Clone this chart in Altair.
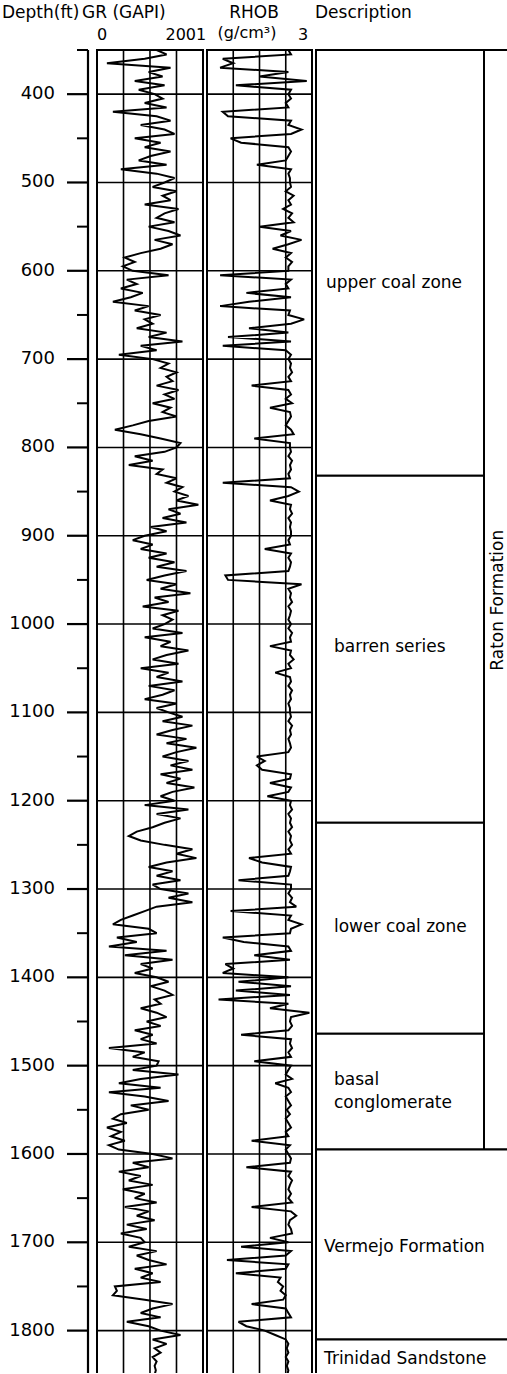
import altair as alt
import pandas as pd

# ---------------- data ----------------
depth_top = 350
depth_step = 5

# Gamma ray (GAPI), one value every 5 ft
gr_350 = [150, 175, 120, 25, 185, 130, 165, 95, 170, 105]
gr_400 = [145, 165, 120, 175, 40, 150, 185, 110, 170, 195, 95, 160, 120, 185, 135, 105, 175, 60, 150, 195]
gr_500 = [170, 140, 200, 165, 185, 120, 205, 170, 150, 195, 130, 180, 210, 145, 190, 160, 110, 70, 95, 65]
gr_600 = [90, 180, 75, 100, 60, 115, 85, 40, 130, 95, 160, 120, 140, 100, 175, 130, 215, 110, 150, 55]
gr_700 = [140, 180, 160, 200, 175, 190, 150, 205, 170, 195, 140, 185, 165, 200, 130, 90, 45, 110, 160, 210]
gr_800 = [200, 170, 95, 140, 80, 165, 150, 200, 175, 215, 195, 230, 200, 255, 180, 210, 165, 225, 135, 175]
gr_900 = [120, 90, 140, 110, 175, 130, 195, 150, 225, 170, 125, 200, 160, 235, 145, 180, 115, 205, 165, 190]
gr_1000 = [170, 140, 215, 120, 185, 160, 230, 175, 140, 205, 110, 180, 150, 215, 130, 195, 165, 120, 200, 150]
gr_1100 = [180, 215, 165, 240, 190, 150, 225, 175, 250, 200, 165, 230, 185, 240, 160, 210, 175, 245, 190, 160]
gr_1200 = [195, 120, 230, 150, 210, 170, 140, 100, 80, 110, 170, 240, 200, 250, 175, 130, 190, 150, 210, 140]
gr_1300 = [160, 230, 180, 240, 150, 120, 90, 60, 40, 130, 150, 50, 100, 30, 175, 70, 190, 110, 140, 95]
gr_1400 = [150, 180, 135, 170, 190, 145, 160, 110, 150, 175, 125, 160, 95, 140, 110, 150, 30, 120, 90, 155]
gr_1500 = [150, 90, 205, 110, 55, 160, 30, 120, 180, 85, 130, 60, 40, 75, 25, 60, 35, 70, 30, 55]
gr_1600 = [140, 190, 90, 130, 55, 110, 80, 140, 65, 120, 95, 150, 70, 130, 100, 145, 75, 125, 60, 110]
gr_1700 = [120, 80, 150, 100, 130, 175, 95, 140, 110, 160, 45, 50, 40, 120, 190, 140, 110, 160, 75, 130]
gr_1800 = [160, 210, 140, 175, 145, 160, 140, 150, 145, 148, 145]

# Bulk density (g/cm3), one value every 5 ft
rhob_350 = [2.55, 2.6, 1.3, 1.5, 1.25, 2.55, 2.0, 2.9, 1.55, 2.6]
rhob_400 = [2.55, 2.6, 2.5, 2.55, 1.3, 1.4, 2.6, 2.55, 2.8, 2.6, 1.45, 1.65, 2.55, 2.6, 2.55, 2.5, 1.95, 2.6, 2.55, 2.58]
rhob_500 = [2.58, 2.6, 2.5, 2.65, 2.55, 2.6, 2.45, 2.62, 2.55, 2.65, 2.0, 2.6, 2.4, 2.8, 2.55, 2.25, 2.6, 2.5, 2.62, 2.55]
rhob_600 = [2.55, 1.25, 2.6, 2.5, 2.55, 1.75, 2.6, 1.8, 1.25, 2.58, 2.55, 2.85, 2.6, 1.8, 2.55, 1.4, 2.6, 1.3, 2.5, 2.6]
rhob_700 = [2.55, 2.6, 2.58, 2.62, 2.55, 2.6, 1.85, 2.55, 2.6, 2.5, 2.62, 2.2, 2.58, 2.6, 2.55, 2.5, 2.6, 2.65, 1.9, 2.58]
rhob_800 = [2.58, 2.6, 2.55, 2.62, 2.58, 2.6, 2.55, 2.58, 1.3, 2.6, 2.75, 2.55, 2.2, 2.6, 2.58, 2.62, 2.55, 2.6, 2.58, 2.6]
rhob_900 = [2.6, 2.55, 2.58, 2.1, 2.6, 2.55, 2.6, 2.58, 2.55, 1.35, 1.4, 2.8, 2.55, 2.6, 2.58, 2.62, 2.55, 2.6, 2.58, 2.55]
rhob_1000 = [2.6, 2.55, 2.62, 2.58, 2.6, 2.2, 2.6, 2.58, 2.65, 2.55, 2.6, 2.3, 2.58, 2.6, 2.55, 2.62, 2.58, 2.6, 2.55, 2.58]
rhob_1100 = [2.58, 2.6, 2.55, 2.62, 2.58, 2.6, 2.55, 2.58, 2.6, 2.55, 1.95, 2.1, 1.95, 2.05, 2.6, 2.58, 2.2, 2.6, 2.55, 2.15]
rhob_1200 = [2.6, 2.58, 2.62, 2.55, 2.6, 2.58, 2.62, 2.55, 2.6, 2.58, 2.62, 2.55, 2.6, 1.8, 2.05, 2.6, 2.58, 2.55, 1.6, 2.6]
rhob_1300 = [2.6, 2.55, 2.62, 2.58, 2.7, 1.45, 2.6, 2.55, 2.8, 2.6, 2.58, 1.3, 1.7, 2.55, 2.6, 1.9, 2.58, 1.35, 1.5, 1.3]
rhob_1400 = [2.55, 1.6, 2.6, 1.55, 2.58, 1.22, 2.55, 2.2, 2.95, 2.6, 2.58, 2.62, 2.55, 1.65, 2.6, 2.58, 2.62, 2.55, 2.6, 1.9]
rhob_1500 = [2.6, 2.55, 2.5, 2.62, 2.3, 2.55, 2.6, 2.5, 2.55, 2.6, 2.52, 2.58, 2.5, 2.55, 2.6, 2.5, 2.55, 1.85, 2.58, 2.5]
rhob_1600 = [2.55, 2.6, 2.58, 1.75, 2.6, 2.55, 2.62, 2.58, 2.55, 2.6, 2.55, 2.62, 1.85, 2.6, 2.7, 2.58, 2.55, 2.6, 2.62, 2.2]
rhob_1700 = [2.55, 1.65, 2.6, 2.5, 1.38, 2.55, 2.5, 1.55, 2.4, 2.35, 2.45, 2.4, 2.5, 2.45, 1.85, 2.5, 2.55, 2.6, 1.6, 1.75]
rhob_1800 = [2.1, 2.3, 2.5, 2.55, 2.52, 2.55, 2.5, 2.55, 2.52, 2.55, 2.53]

# depth axis
depth_domain = [350, 1848]
major_ticks = [400, 500, 600, 700, 800, 900, 1000, 1100, 1200, 1300, 1400, 1500, 1600, 1700, 1800]
minor_ticks = [350, 450, 550, 650, 750, 850, 950, 1050, 1150, 1250, 1350, 1450, 1550, 1650, 1750]

# track scales
gr_limits = [0, 266.7]
gr_grid = [66.7, 133.3, 200.0]
rhob_limits = [1.0, 3.0]
rhob_grid = [1.5, 2.0, 2.5]

# description column
zone_names = ["upper coal zone", "barren series", "lower coal zone", "basal conglomerate"]
zone_tops = [350, 832, 1225, 1464]
zone_bottoms = [832, 1225, 1464, 1595]
formation_names = ["Vermejo Formation", "Trinidad Sandstone"]
formation_tops = [1595, 1810]
formation_bottoms = [1810, 1860]
raton_name = "Raton Formation"
raton_top, raton_bottom, raton_label_depth = 350, 1595, 973

zone_labels = ["upper coal zone", "barren series", "lower coal zone", "basal", "conglomerate"]
zone_label_depths = [614, 1026, 1343, 1516, 1542]
formation_labels = ["Vermejo Formation", "Trinidad Sandstone"]
formation_label_depths = [1705, 1832]

header_titles = ["Depth(ft)", "GR (GAPI)", "RHOB", "Description"]
scale_labels = ["0", "200", "1", "(g/cm³)", "3"]

# ---------------- tables ----------------
gr = (gr_350 + gr_400 + gr_500 + gr_600 + gr_700 + gr_800 + gr_900 + gr_1000 + gr_1100
      + gr_1200 + gr_1300 + gr_1400 + gr_1500 + gr_1600 + gr_1700 + gr_1800)
rhob = (rhob_350 + rhob_400 + rhob_500 + rhob_600 + rhob_700 + rhob_800 + rhob_900 + rhob_1000
        + rhob_1100 + rhob_1200 + rhob_1300 + rhob_1400 + rhob_1500 + rhob_1600 + rhob_1700 + rhob_1800)
depths = [depth_top + depth_step * i for i in range(len(gr))]
log_df = pd.DataFrame({"Depth": depths, "GR": gr, "RHOB": rhob})

W, H = 419, 1323
FONT = "DejaVu Sans"

y_scale = alt.Scale(domain=depth_domain, reverse=True, nice=False, zero=False)
gr_scale = alt.Scale(domain=gr_limits, range=[9, 115], nice=False, zero=False)
rh_scale = alt.Scale(domain=rhob_limits, range=[119, 224], nice=False, zero=False)


def Y(field="Depth:Q"):
    return alt.Y(field, scale=y_scale, axis=None)


layers = []

# track frames
layers.append(alt.Chart(pd.DataFrame({"lo": [gr_limits[0]], "hi": [gr_limits[1]]})).mark_rect(
    fill="white", stroke="black", strokeWidth=2).encode(
    x=alt.X("lo:Q", scale=gr_scale, axis=None), x2="hi:Q", y=alt.value(0), y2=alt.value(H + 5)))
layers.append(alt.Chart(pd.DataFrame({"lo": [rhob_limits[0]], "hi": [rhob_limits[1]]})).mark_rect(
    fill="white", stroke="black", strokeWidth=2).encode(
    x=alt.X("lo:Q", scale=rh_scale, axis=None), x2="hi:Q", y=alt.value(0), y2=alt.value(H + 5)))

# description boxes
zone_df = pd.DataFrame({"name": zone_names, "top": zone_tops, "bottom": zone_bottoms})
layers.append(alt.Chart(zone_df).mark_rect(fill="white", stroke="black", strokeWidth=2).encode(
    y=Y("top:Q"), y2="bottom:Q", x=alt.value(228), x2=alt.value(396)))
layers.append(alt.Chart(pd.DataFrame({"name": [raton_name], "top": [raton_top], "bottom": [raton_bottom]})).mark_rect(
    fill="white", stroke="black", strokeWidth=2).encode(
    y=Y("top:Q"), y2="bottom:Q", x=alt.value(396), x2=alt.value(426)))
form_df = pd.DataFrame({"name": formation_names, "top": formation_tops, "bottom": formation_bottoms})
layers.append(alt.Chart(form_df).mark_rect(fill="white", stroke="black", strokeWidth=2).encode(
    y=Y("top:Q"), y2="bottom:Q", x=alt.value(228), x2=alt.value(426)))

# grid lines
layers.append(alt.Chart(pd.DataFrame({"v": gr_grid})).mark_rule(color="black", strokeWidth=1.6).encode(
    x=alt.X("v:Q", scale=gr_scale, axis=None), y=alt.value(0), y2=alt.value(H + 5)))
layers.append(alt.Chart(pd.DataFrame({"v": rhob_grid})).mark_rule(color="black", strokeWidth=1.6).encode(
    x=alt.X("v:Q", scale=rh_scale, axis=None), y=alt.value(0), y2=alt.value(H + 5)))
hgrid = pd.DataFrame({"Depth": major_ticks})
layers.append(alt.Chart(hgrid).mark_rule(color="black", strokeWidth=1.6).encode(
    y=Y(), x=alt.XDatum(gr_limits[0], scale=gr_scale, axis=None), x2=alt.X2Datum(gr_limits[1])))
layers.append(alt.Chart(hgrid).mark_rule(color="black", strokeWidth=1.6).encode(
    y=Y(), x=alt.XDatum(rhob_limits[0], scale=rh_scale, axis=None), x2=alt.X2Datum(rhob_limits[1])))

# log curves
layers.append(alt.Chart(log_df).mark_line(color="black", strokeWidth=2.0, clip=True,
                                          strokeJoin="miter", strokeMiterLimit=3).encode(
    x=alt.X("GR:Q", scale=gr_scale, axis=None), y=Y(), order="Depth:Q"))
layers.append(alt.Chart(log_df).mark_line(color="black", strokeWidth=2.0, clip=True,
                                          strokeJoin="miter", strokeMiterLimit=3).encode(
    x=alt.X("RHOB:Q", scale=rh_scale, axis=None), y=Y(), order="Depth:Q"))

# depth axis drawn with rules and text
layers.append(alt.Chart(pd.DataFrame({"Depth": [depth_domain[0]], "end": [depth_domain[1]]})).mark_rule(
    color="black", strokeWidth=2.2).encode(y=Y(), y2="end:Q", x=alt.value(0)))
layers.append(alt.Chart(hgrid).mark_rule(color="black", strokeWidth=2.2).encode(
    y=Y(), x=alt.value(-21), x2=alt.value(0)))
layers.append(alt.Chart(pd.DataFrame({"Depth": minor_ticks})).mark_rule(color="black", strokeWidth=2).encode(
    y=Y(), x=alt.value(-11), x2=alt.value(0)))
layers.append(alt.Chart(hgrid).mark_text(align="right", baseline="middle", font=FONT, fontSize=18,
                                         color="black").encode(
    y=Y(), x=alt.value(-33), text=alt.Text("Depth:Q", format="d")))

# description labels
txt = dict(font=FONT, fontSize=17, color="black", baseline="middle")
layers.append(alt.Chart(pd.DataFrame({"label": zone_labels[:1], "Depth": zone_label_depths[:1]})).mark_text(
    align="left", **txt).encode(y=Y(), x=alt.value(238), text="label:N"))
layers.append(alt.Chart(pd.DataFrame({"label": zone_labels[1:], "Depth": zone_label_depths[1:]})).mark_text(
    align="left", **txt).encode(y=Y(), x=alt.value(246), text="label:N"))
layers.append(alt.Chart(pd.DataFrame({"label": formation_labels, "Depth": formation_label_depths})).mark_text(
    align="left", **txt).encode(y=Y(), x=alt.value(236), text="label:N"))
layers.append(alt.Chart(pd.DataFrame({"label": [raton_name], "Depth": [raton_label_depth]})).mark_text(
    align="center", angle=270, **txt).encode(y=Y(), x=alt.value(410), text="label:N"))


def header(text, x, y, align, size=17):
    return alt.Chart(pd.DataFrame({"t": [text]})).mark_text(
        align=align, baseline="alphabetic", font=FONT, fontSize=size, color="black").encode(
        x=alt.value(x), y=alt.value(y), text="t:N")


layers += [
    header(header_titles[0], -86, -32, "left"),
    header(header_titles[1], -6, -32, "left"),
    header(header_titles[2], 166, -32, "center"),
    header(header_titles[3], 227, -32, "left"),
    header(scale_labels[0], 14, -10, "center", 16),
    header(scale_labels[1], 108, -10, "right", 16),
    header(scale_labels[2], 113, -10, "center", 16),
    header(scale_labels[3], 159, -12, "center", 16),
    header(scale_labels[4], 215, -10, "center", 16),
]

chart = alt.layer(*layers).resolve_scale(x="independent").properties(
    width=W, height=H,
    padding={"left": 88, "top": 50, "right": 0, "bottom": 0},
    autosize=alt.AutoSizeParams(type="none"),
).configure_view(stroke=None)

chart.save("out.html", embed_options={"renderer": "svg", "actions": False})
